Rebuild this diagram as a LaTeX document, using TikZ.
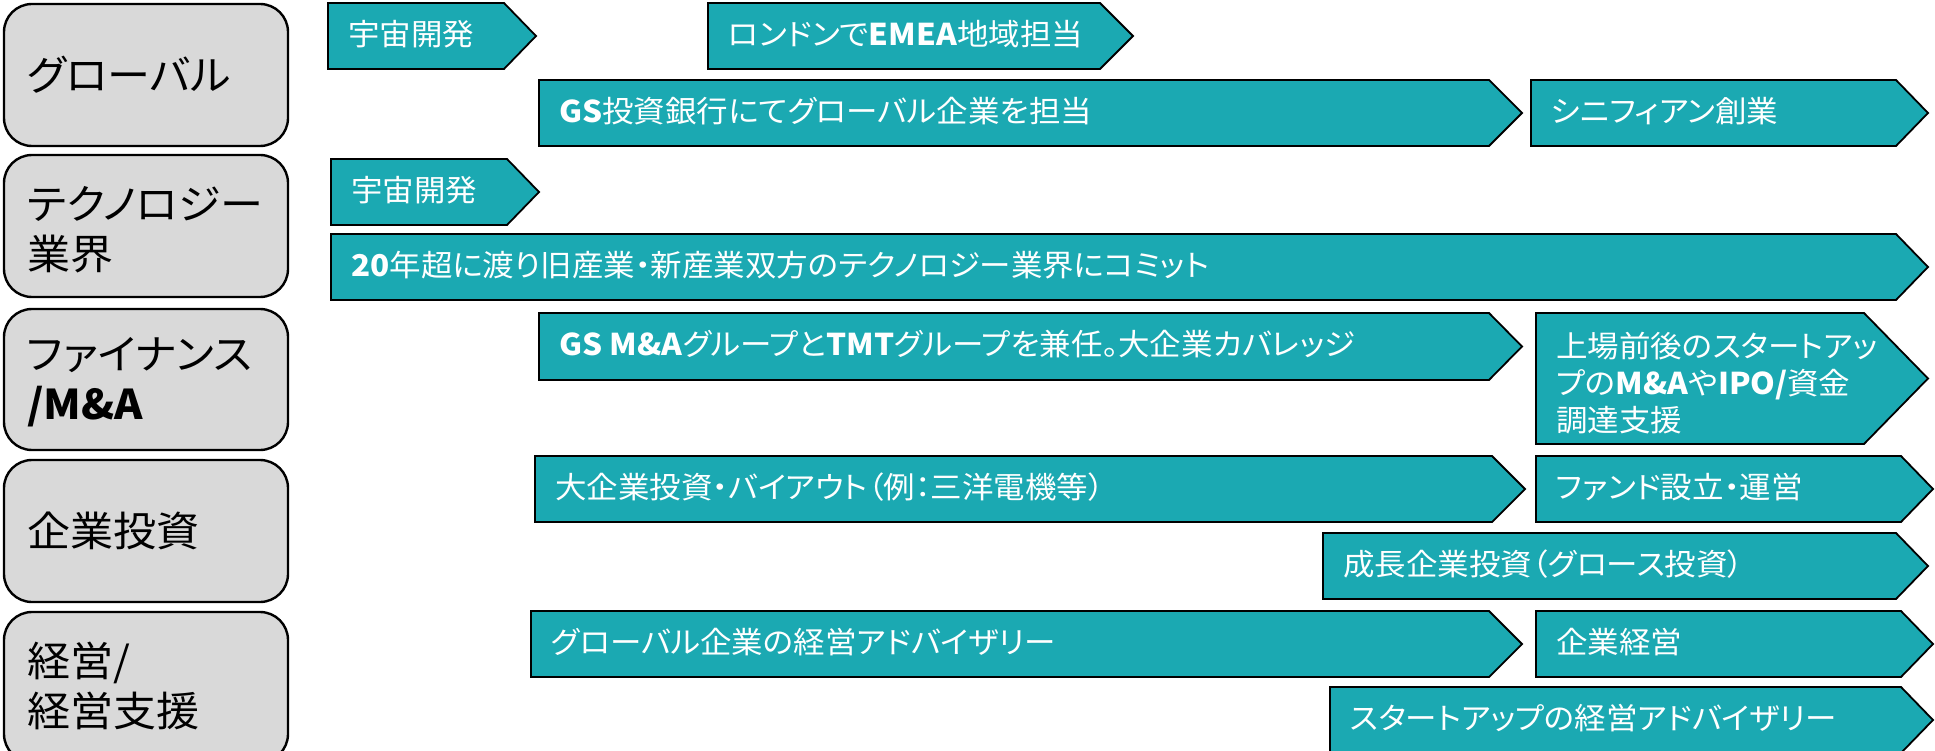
\documentclass[tikz,border=0pt]{standalone}
\usepackage{fontspec}
\setmainfont{Noto Sans CJK JP}[FakeStretch=1.05,RawFeature={+palt}]
\definecolor{tealfill}{HTML}{1BA9B2}
\definecolor{grayfill}{HTML}{D9D9D9}
% #1 name, #2 x left, #3 y top, #4 x end of straight part, #5 x tip, #6 y bottom, #7 text
\newcommand\chevron[7]{%
  \draw[chev] (#2,#3) -- (#4,#3) -- (#5,{(#3+#6)/2}) -- (#4,#6) -- (#2,#6) -- cycle;
  \node[chevtext] (#1) at ({#2+20},{(#3+#6)/2-2}) {#7};}
\begin{document}
\begin{tikzpicture}[x=1pt,y=-1pt,
  chev/.style={fill=tealfill,draw=black,line width=1.8pt,line join=miter},
  chevtext/.style={text=white,inner sep=0pt,anchor=west,align=left,font=\fontsize{30}{37}\selectfont},
  catbox/.style={fill=grayfill,draw=black,line width=2.4pt,rounded corners=28pt},
  cattext/.style={text=black,inner sep=0pt,anchor=west,align=left,font=\fontsize{41}{50}\selectfont}]
\useasboundingbox (0,0) rectangle (1935,751);
% category boxes
\draw[catbox] (4,4) rectangle (288,146);
\node[cattext] (c1) at (27,75) {グローバル};
\draw[catbox] (4,155) rectangle (288,297);
\node[cattext] (c2) at (27,230) {テクノロジー\\業界};
\draw[catbox] (4,309) rectangle (288,450);
\node[cattext] (c3) at (27,382) {ファイナンス\\\textbf{/M\&A}};
\draw[catbox] (4,460) rectangle (288,602);
\node[cattext] (c4) at (27,531) {企業投資};
\draw[catbox] (4,612) rectangle (288,762);
\node[cattext] (c5) at (27,686) {経営/\\経営支援};
% chevrons
\chevron{r1a}{328}{3}{504}{536}{69}{宇宙開発}
\chevron{r1b}{708}{3}{1100}{1133}{69}{ロンドンで\textbf{EMEA}地域担当}
\chevron{r1c}{539}{80}{1489}{1522}{146}{\textbf{GS}投資銀行にてグローバル企業を担当}
\chevron{r1d}{1531}{80}{1896}{1928}{146}{シニフィアン創業}
\chevron{r2a}{331}{159}{507}{539}{225}{宇宙開発}
\chevron{r2b}{331}{234}{1896}{1928}{300}{\textbf{20}年超に渡り旧産業・新産業双方のテクノロジー業界にコミット}
\chevron{r3a}{539}{313}{1489}{1522}{380}{\textbf{GS M\&A}グループと\textbf{TMT}グループを兼任。大企業カバレッジ}
\draw[chev] (1536,313) -- (1864,313) -- (1928,378.5) -- (1864,444) -- (1536,444) -- cycle;
\node[chevtext] (r3b) at (1556,383) {上場前後のスタートアッ\\プの\textbf{M\&A}や\textbf{IPO/}資金\\調達支援};
\chevron{r4a}{535}{456}{1492}{1525}{522}{大企業投資・バイアウト（例：三洋電機等）}
\chevron{r4b}{1536}{456}{1901}{1933}{522}{ファンド設立・運営}
\chevron{r4c}{1323}{533}{1896}{1928}{599}{成長企業投資（グロース投資）}
\chevron{r5a}{531}{611}{1489}{1522}{677}{グローバル企業の経営アドバイザリー}
\chevron{r5b}{1536}{611}{1901}{1933}{677}{企業経営}
\chevron{r5c}{1330}{687}{1901}{1933}{753}{スタートアップの経営アドバイザリー}
\end{tikzpicture}
\end{document}
